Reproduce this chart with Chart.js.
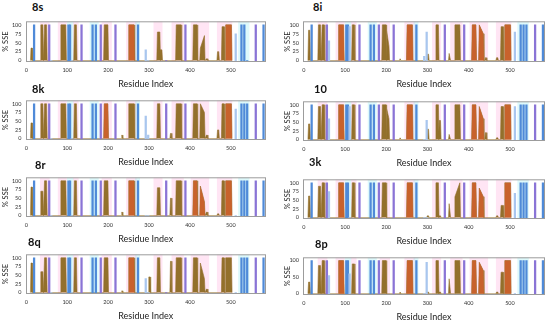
<!DOCTYPE html>
<html>
<head>
<meta charset="utf-8">
<script src="https://cdn.jsdelivr.net/npm/chart.js@4.4.0/dist/chart.umd.min.js"></script>
<style>
  html, body { margin: 0; padding: 0; background: #fff; width: 550px; height: 321px; overflow: hidden; }
  canvas { position: absolute; }
  .tag { position: absolute; font: bold 11px Lato, sans-serif; color: #111; }
</style>
</head>
<body>
<script>
  "use strict";

  // helix sites (residue ranges) and strand sites, shared by all ligands
  const helixSites = [[11, 15], [35, 41], [44, 50], [84, 97], [117, 123], [190, 200], [201, 207], [233, 235],
    [250, 264], [299, 303], [320, 327], [328, 332], [352, 355], [366, 379], [408, 418], [425, 436], [440, 443],
    [467, 471], [478, 484], [487, 502]];
  const strandSites = [19, 56, 61, 103, 107, 111, 135, 162, 170, 182, 218, 273, 292, 298, 342, 389, 512, 526, 533,
    540, 561, 580];
  const pinkBands = [[33, 57], [77, 99], [114, 128], [184, 209], [244, 270], [311, 333], [355, 385], [402, 447],
    [466, 504]];
  const cyanBands = [[99, 115], [155, 177], [266, 278], [518, 546]];
  const xTicks = [0, 100, 200, 300, 400, 500];
  const yTicks = [0, 25, 50, 75, 100];

  // % SSE per helix site (number, or [left, right] for sloping blocks)
  const helix8s = [35, 100, 100, 100, 100, 100, 0, 0, 100, 0, 80, 30, 0, 100, 100, [35, 70], 5, 25, 95, 100];
  const helix8i = [85, 100, 100, 100, 100, 100, [85, 40], 5, 100, 18, 100, 0, 20, 100, 100, [100, 75], 8, 8, 95, 100];
  const helix8k = [45, 100, 100, 100, 100, 100, 0, 10, 100, 0, 100, 0, 15, 100, 100, [100, 75], 10, 25, 100, 100];
  const helix10 = [45, 95, 100, 100, 100, 100, [90, 60], 5, 100, 30, 100, 55, 15, 100, 100, [95, 60], 20, 5, 95, 100];
  const helix8r = [82, 70, 100, 100, 100, 100, 0, 10, 100, 0, 80, 0, 50, 100, 100, [85, 40], 10, 5, 100, 100];
  const helix3k = [62, 90, 100, 100, 100, 100, 0, 0, 100, 5, 100, 5, 40, [60, 100], 100, [85, 60], 0, 5, 35, 100];
  const helix8q = [85, 60, 100, 100, 100, 100, 0, 5, 100, 45, 100, 0, 90, 100, 100, [85, 40], 10, 0, 100, 100];
  const helix8p = [35, 85, 100, 100, 90, 100, 0, 5, 100, 5, 100, 5, 45, 100, 100, [95, 70], 0, 5, 65, 100];

  // % SSE per strand site
  const strand8s = [100, 100, 0, 100, 100, 0, 100, 100, 100, 100, 100, 100, 30, 0, 0, 100, 75, 100, 100, 0, 100, 100];
  const strand8i = [100, 100, 55, 100, 100, 95, 100, 100, 100, 100, 100, 100, 12, 80, 100, 100, 80, 100, 100, 100,
    100, 100];
  const strand8k = [100, 100, 0, 100, 100, 0, 100, 100, 100, 100, 100, 100, 65, 10, 100, 100, 85, 100, 100, 100,
    100, 100];
  const strand10 = [100, 100, 60, 100, 100, 95, 100, 100, 100, 100, 100, 100, 0, 55, 100, 100, 95, 100, 100, 100,
    100, 100];
  const strand8r = [100, 100, 0, 100, 100, 0, 100, 100, 100, 100, 100, 100, 0, 0, 100, 100, 0, 100, 100, 100, 100, 100];
  const strand3k = [100, 100, 75, 100, 100, 0, 100, 100, 100, 100, 100, 100, 0, 0, 100, 100, 70, 100, 100, 100, 100,
    100];
  const strand8q = [100, 100, 0, 100, 100, 0, 100, 100, 100, 100, 100, 100, 40, 0, 0, 100, 0, 100, 100, 100, 100, 100];
  const strand8p = [100, 100, 55, 100, 100, 60, 100, 100, 100, 100, 100, 100, 0, 95, 100, 100, 0, 100, 100, 100, 100,
    100];

  // look: which strand sites are violet / pale
  const strandTone = ["b", "v", "l", "b", "b", "l", "v", "b", "b", "v", "v", "b", "l", "l", "v", "v", "l", "b", "b",
    "b", "v", "b"];
  const toneColor = {b: "#4f8ad8", v: "#8a74d6", l: "#a9c6ee"};

  const panels = [
    {name: "8s", col: 0, tagX: 32, tagY: 0, top: 17, bottom: 62, helix: helix8s, strand: strand8s, orange: [8, 19]},
    {name: "8i", col: 1, tagX: 313, tagY: 0, top: 17, bottom: 62, helix: helix8i, strand: strand8i,
      orange: [3, 8, 14, 15, 19]},
    {name: "8k", col: 0, tagX: 32, tagY: 82, top: 96, bottom: 140, helix: helix8k, strand: strand8k, orange: [5, 19]},
    {name: "10", col: 1, tagX: 314, tagY: 82, top: 97, bottom: 141, helix: helix10, strand: strand10,
      orange: [3, 8, 14, 15, 19]},
    {name: "8r", col: 0, tagX: 35, tagY: 158, top: 173, bottom: 217, helix: helix8r, strand: strand8r,
      orange: [8, 14, 15, 19]},
    {name: "3k", col: 1, tagX: 309, tagY: 155, top: 175, bottom: 219, helix: helix3k, strand: strand3k,
      orange: [3, 8, 14, 15, 19]},
    {name: "8q", col: 0, tagX: 28, tagY: 235, top: 250, bottom: 294, helix: helix8q, strand: strand8q, orange: [8]},
    {name: "8p", col: 1, tagX: 315, tagY: 237, top: 253, bottom: 295, helix: helix8p, strand: strand8p,
      orange: [3, 8, 14, 15, 19]},
  ];
  const cols = [
    {left: 0, width: 270, plotLeft: 25.5, plotRight: 266, yTitlePad: 1, max: 586},
    {left: 275, width: 275, plotLeft: 303, plotRight: 545, yTitlePad: 8, max: 585},
  ];

  function blockPoints(sites, values, pick) {
    const pts = [];
    sites.forEach(([s, e], i) => {
      const v = values[i];
      if (!v || (pick && !pick.includes(i))) return;
      const [a, b] = Array.isArray(v) ? v : [v, v];
      pts.push({x: s - 1, y: 0}, {x: s + 0.5, y: a}, {x: e - 0.5, y: b}, {x: e + 1, y: 0});
    });
    return pts;
  }

  function bandPoints(bands) {
    const pts = [];
    bands.forEach(([s, e]) => {
      pts.push({x: s, y: -4}, {x: s, y: 110}, {x: e, y: 110}, {x: e, y: -4});
    });
    return pts;
  }

  const framePlugin = {
    id: "frame",
    afterDraw(chart) {
      const {ctx, chartArea: a} = chart;
      ctx.save();
      ctx.strokeStyle = "#9c9c9c";
      ctx.lineWidth = 1;
      ctx.strokeRect(Math.round(a.left) + 0.5, a.top + 0.5, a.right - Math.round(a.left) - 1, a.bottom - a.top - 1);
      ctx.restore();
    },
  };

  const font = "Lato, 'Open Sans', sans-serif";

  panels.forEach((p) => {
    const c = cols[p.col];
    const tag = document.createElement("div");
    tag.className = "tag";
    tag.style.left = p.tagX + "px";
    tag.style.top = p.tagY + "px";
    tag.textContent = p.name;
    document.body.appendChild(tag);

    const cv = document.createElement("canvas");
    const top = p.top - 3;
    const h = p.bottom - p.top + 3 + 27;
    cv.width = c.width;
    cv.height = h;
    cv.style.left = c.left + "px";
    cv.style.top = top + "px";
    cv.style.width = c.width + "px";
    cv.style.height = h + "px";
    document.body.appendChild(cv);

    const lineDefaults = {type: "line", pointRadius: 0, tension: 0, borderWidth: 0};

    new Chart(cv.getContext("2d"), {
      type: "bar",
      data: {
        datasets: [
          Object.assign({}, lineDefaults, {data: bandPoints(pinkBands), fill: "start",
            backgroundColor: "rgba(255, 175, 220, 0.32)", order: 10}),
          Object.assign({}, lineDefaults, {data: bandPoints(cyanBands), fill: "start",
            backgroundColor: "rgba(165, 238, 245, 0.38)", order: 9}),
          Object.assign({}, lineDefaults, {data: blockPoints(helixSites, p.helix), fill: "origin",
            backgroundColor: "#93702c", borderColor: "#93702c", borderWidth: 0.6, order: 3}),
          Object.assign({}, lineDefaults, {data: blockPoints(helixSites, p.helix, p.orange), fill: "origin",
            backgroundColor: "rgba(222, 92, 44, 0.7)", order: 2}),
          {
            type: "bar",
            data: strandSites.map((x, i) => ({x: x, y: p.strand[i]})),
            backgroundColor: strandTone.map((t) => toneColor[t]),
            barThickness: 1.6,
            grouped: false,
            order: 1,
          },
        ],
      },
      options: {
        responsive: false,
        animation: false,
        devicePixelRatio: 1,
        layout: {padding: {top: 3, left: 0, right: c.width - (c.plotRight - c.left), bottom: 0}},
        plugins: {legend: {display: false}, tooltip: {enabled: false}},
        scales: {
          x: {
            type: "linear",
            min: -2,
            max: c.max,
            offset: false,
            afterBuildTicks: (s) => { s.ticks = xTicks.map((v) => ({value: v})); },
            afterFit: (s) => { s.height = 27; },
            ticks: {font: {family: font, size: 5.5}, color: "#333", padding: 5, maxRotation: 0, autoSkip: false},
            grid: {display: false, drawTicks: false},
            border: {display: false},
            title: {display: true, text: "Residue Index", color: "#222", font: {family: font, size: 9},
              padding: {top: 0, bottom: 0}},
          },
          y: {
            min: -4,
            max: 110,
            afterBuildTicks: (s) => { s.ticks = yTicks.map((v) => ({value: v})); },
            afterFit: (s) => { s.width = c.plotLeft - c.left; },
            ticks: {font: {family: font, size: 5.5}, color: "#333", padding: 4},
            grid: {display: false, drawTicks: false},
            border: {display: false},
            title: {display: true, text: "% SSE", color: "#222", font: {family: font, size: 7.5},
              padding: {top: c.yTitlePad, bottom: 0}},
          },
        },
      },
      plugins: [framePlugin],
    });
  });
</script>
</body>
</html>
